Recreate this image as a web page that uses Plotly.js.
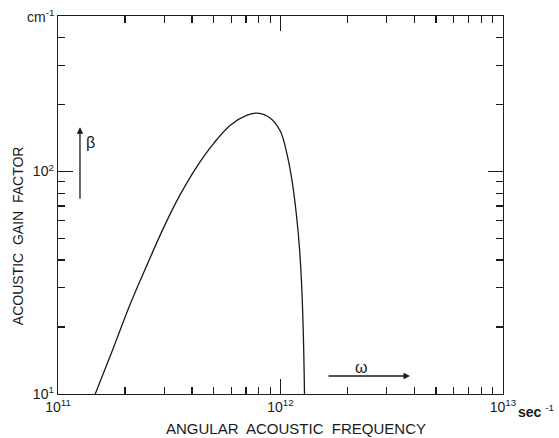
<!DOCTYPE html>
<html>
<head>
<meta charset="utf-8">
<script src="https://cdn.plot.ly/plotly-3.0.1.min.js"></script>
<style>html,body{margin:0;padding:0;background:#fff;}#chart{width:559px;height:438px;}</style>
</head>
<body>
<div id="chart"></div>
<script>
// Angular acoustic frequency (sec^-1)
const omega = [1.47e11, 1.775e11, 2.11e11, 2.51e11, 2.98e11, 3.54e11, 4.21e11, 5.01e11, 5.95e11, 7.08e11, 7.85e11, 9.01e11, 1.0e12, 1.072e12, 1.129e12, 1.18e12, 1.218e12, 1.243e12, 1.266e12, 1.282e12];
// Acoustic gain factor beta (cm^-1)
const beta = [10, 16.15, 25.3, 37.95, 55.8, 78.7, 105.3, 133.9, 161.5, 179.2, 183, 173.7, 151.2, 118.5, 89.8, 63.4, 44.8, 31.8, 18.9, 10];

const xMajorVals = [1e11, 1e12, 1e13];
const xMajorText = ['10<sup>11</sup>', '10<sup>12</sup>', '10<sup>13</sup>'];
const xMinorVals = [2e11,3e11,4e11,5e11,6e11,7e11,8e11,9e11,2e12,3e12,4e12,5e12,6e12,7e12,8e12,9e12];
const yMajorVals = [10, 100];
const yMajorText = ['10<sup>1</sup>', '10<sup>2</sup>'];
const yMinorVals = [20,30,40,50,60,70,80,90,200,300,400];

const F = 'Liberation Sans, Arial, sans-serif';
const ink = '#1a1a1a';

const trace = {
  x: omega, y: beta, type: 'scatter', mode: 'lines',
  line: {color: ink, width: 1.3, shape: 'spline', smoothing: 1},
  hoverinfo: 'skip'
};

const axisBase = {
  type: 'log', showgrid: false, zeroline: false,
  showline: true, linecolor: ink, linewidth: 1.3,
  ticks: 'inside', ticklen: 15, tickwidth: 1.2, tickcolor: ink,
  mirror: 'allticks', tickmode: 'array',
  tickfont: {family: F, size: 14, color: ink},
  minor: {tickmode: 'array', ticks: 'inside', ticklen: 7, tickwidth: 1.1, tickcolor: ink, showgrid: false}
};

const layout = {
  width: 559, height: 438,
  margin: {l: 58, r: 56, t: 16, b: 44},
  paper_bgcolor: '#fff', plot_bgcolor: '#fff',
  showlegend: false,
  xaxis: Object.assign({}, axisBase, {
    range: [11, 13], tickvals: xMajorVals, ticktext: xMajorText,
    minor: Object.assign({}, axisBase.minor, {tickvals: xMinorVals})
  }),
  yaxis: Object.assign({}, axisBase, {
    range: [1, Math.log10(500)], tickvals: yMajorVals, ticktext: yMajorText,
    minor: Object.assign({}, axisBase.minor, {tickvals: yMinorVals})
  }),
  annotations: [
    {xref: 'paper', yref: 'paper', x: 0.535, y: -0.09, yanchor: 'middle', xanchor: 'center', showarrow: false,
     text: 'ANGULAR  ACOUSTIC  FREQUENCY', font: {family: F, size: 15, color: ink}},
    {xref: 'paper', yref: 'paper', x: -0.09, y: 0.42, xanchor: 'center', yanchor: 'middle', textangle: -90, showarrow: false,
     text: 'ACOUSTIC  GAIN  FACTOR', font: {family: F, size: 14, color: ink}},
    {xref: 'paper', yref: 'paper', x: -0.005, y: 1.0, xanchor: 'right', yanchor: 'middle', showarrow: false,
     text: 'cm<sup>-1</sup>', font: {family: F, size: 14, color: ink}},
    {xref: 'paper', yref: 'paper', x: 1.03, y: -0.045, xanchor: 'left', yanchor: 'middle', showarrow: false,
     text: '<b>sec</b> <sup>-1</sup>', font: {family: F, size: 14, color: ink}},
    // beta arrow
    {xref: 'paper', yref: 'paper', x: 0.0494, y: 0.706, text: '', showarrow: true,
     axref: 'pixel', ayref: 'pixel', ax: 0, ay: 73, arrowhead: 2, arrowsize: 1, arrowwidth: 1.3, arrowcolor: ink},
    {xref: 'paper', yref: 'paper', x: 0.072, y: 0.665, xanchor: 'center', yanchor: 'middle', showarrow: false,
     text: 'β', font: {family: F, size: 16, color: ink}},
    // omega arrow
    {xref: 'paper', yref: 'paper', x: 0.791, y: 0.0476, text: '', showarrow: true,
     axref: 'pixel', ayref: 'pixel', ax: -83, ay: 0, arrowhead: 2, arrowsize: 1, arrowwidth: 1.3, arrowcolor: ink},
    {xref: 'paper', yref: 'paper', x: 0.683, y: 0.07, xanchor: 'center', yanchor: 'middle', showarrow: false,
     text: 'ω', font: {family: F, size: 16, color: ink}}
  ]
};

Plotly.newPlot('chart', [trace], layout, {staticPlot: true, displayModeBar: false});
</script>
</body>
</html>
